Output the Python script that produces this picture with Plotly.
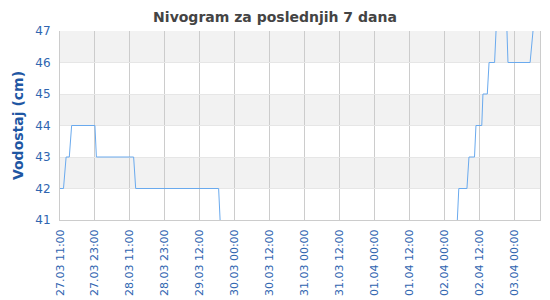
import plotly.graph_objects as go

# hours since 27.03 11:00
hours = [0.0, 1.2, 2.1, 3.2, 4.0, 12.0, 12.5, 25.3, 26.0, 54.5, 55.5,
         136.0, 137.0, 139.8, 140.5, 142.4, 142.9, 144.9, 145.3, 146.8, 147.4,
         149.3, 150.3, 153.2, 153.9, 161.5, 163.5, 164.9]
level = [42, 42, 43, 43, 44, 44, 43, 43, 42, 42, 40,
         40, 42, 42, 43, 43, 44, 44, 45, 45, 46,
         46, 48, 48, 46, 46, 48, 48]

tick_hours = [0, 12, 24, 36, 48, 60, 72, 84, 96, 108, 120, 132, 144, 156]
tick_labels = ["27.03 11:00", "27.03 23:00", "28.03 11:00", "28.03 23:00",
               "29.03 12:00", "30.03 00:00", "30.03 12:00", "31.03 00:00",
               "31.03 12:00", "01.04 00:00", "01.04 12:00", "02.04 00:00",
               "02.04 12:00", "03.04 00:00"]
y_ticks = [41, 42, 43, 44, 45, 46, 47]
bands = [(42, 43), (44, 45), (46, 47)]

FONT = "DejaVu Sans"
fig = go.Figure()
fig.add_trace(go.Scatter(x=hours, y=level, mode="lines",
                         line=dict(color="#6aaaee", width=1),
                         hoverinfo="skip", showlegend=False))

for lo, hi in bands:
    fig.add_shape(type="rect", xref="paper", yref="y", x0=0, x1=1, y0=lo, y1=hi,
                  fillcolor="#f2f2f2", line_width=0, layer="below")

fig.update_layout(
    width=550, height=300,
    margin=dict(l=60, r=10, t=31, b=80, autoexpand=False),
    paper_bgcolor="white", plot_bgcolor="white",
    title=dict(text="<b>Nivogram za poslednjih 7 dana</b>", x=0.5, xref="container",
               xanchor="center", y=1 - 17 / 300, yref="container", yanchor="middle",
               font=dict(family=FONT, size=14, color="#444444")),
    font=dict(family=FONT),
)
fig.update_xaxes(range=[0, 164.9], tickvals=tick_hours, ticktext=tick_labels,
                 tickangle=-90, tickfont=dict(size=11, color="#2f65b0", family=FONT),
                 showgrid=True, gridcolor="#cccccc", gridwidth=1,
                 showline=True, linecolor="#cccccc", linewidth=1,
                 ticks="", zeroline=False, ticklabelstandoff=4, automargin=False)
fig.update_yaxes(range=[41, 47], tickvals=y_ticks,
                 tickfont=dict(size=12, color="#2f65b0", family=FONT),
                 showgrid=True, gridcolor="#e6e6e6", gridwidth=1,
                 showline=True, mirror=True, linecolor="#cccccc", linewidth=1,
                 ticks="", zeroline=False, ticklabelstandoff=6, automargin=False,
                 title=dict(text="<b>Vodostaj (cm)</b>", standoff=8,
                            font=dict(family=FONT, size=14, color="#1f57a3")))

fig.write_html("out.html")
